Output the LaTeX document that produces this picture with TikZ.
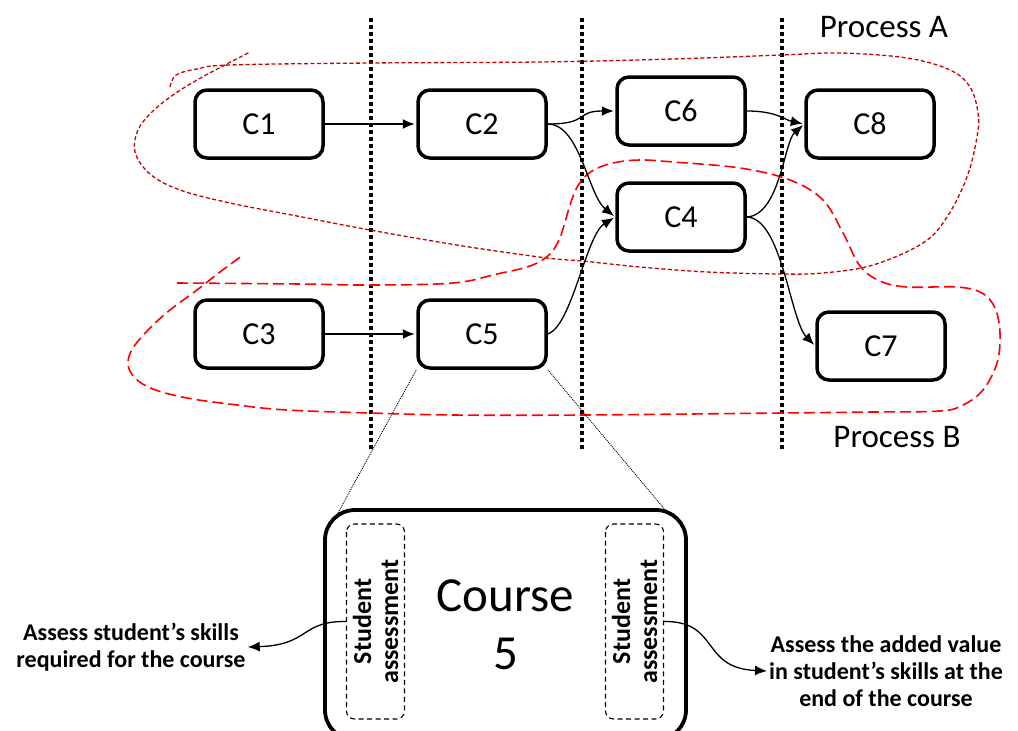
\documentclass[tikz,border=0pt]{standalone}
\usepackage{fontspec}
\setmainfont{Carlito}
\usetikzlibrary{arrows.meta}
\definecolor{redA}{RGB}{200,0,0}
\definecolor{redB}{RGB}{255,0,0}
\begin{document}
\begin{tikzpicture}[x=1pt,y=-1pt,
  cbox/.style={draw, line width=3.5pt, rounded corners=12pt, minimum width=128pt, minimum height=68pt, inner sep=0pt, font=\fontsize{32}{38}\selectfont},
  conn/.style={line width=1.3pt, -{Latex[length=12pt,width=10pt]}, shorten >=1.5pt},
  vdot/.style={line width=4pt, dash pattern=on 3.5pt off 3.5pt},
  zoomline/.style={line width=0.9pt, dash pattern=on 1pt off 1pt},
  bigbox/.style={draw, line width=3.8pt, rounded corners=30pt, minimum width=361pt, minimum height=230pt, align=center, font=\fontsize{49}{58}\selectfont},
  sabox/.style={draw, line width=1.1pt, dash pattern=on 5pt off 3.5pt, rounded corners=8pt, rotate=90, minimum width=195pt, minimum height=58pt, inner sep=0pt, align=center, font=\fontsize{26}{27}\selectfont\bfseries},
  lbl/.style={align=center, inner sep=2pt, font=\fontsize{24}{27}\selectfont\bfseries},
  proc/.style={inner sep=0pt, font=\fontsize{33}{38}\selectfont},
  procA/.style={redA, line width=1.3pt, dash pattern=on 4pt off 2.5pt},
  procB/.style={redB, line width=1.6pt, dash pattern=on 11pt off 5pt},
  note/.style={line width=1.3pt, -{Latex[length=12pt,width=10pt]}}
]
\useasboundingbox (0,0) rectangle (1018,731);

% column separators
\draw[vdot] (371,18) -- (371,452);
\draw[vdot] (582,18) -- (582,452);
\draw[vdot] (782,18) -- (782,452);

% process A lasso
\draw[procA] plot[smooth, tension=0.6] coordinates {
 (170,87) (176,75) (197,69) (230,65) (370,63) (540,62) (673,59) (782,55)
 (840,53) (907,58) (950,70) (970,87) (978,113) (977,137) (967,177) (947,217)
 (923,243) (873,265) (823,273) (780,274) (707,272) (640,267) (582,261)
 (547,258) (463,246) (370,230) (297,216) (230,203) (180,190) (150,174)
 (135,152) (138,130) (152,112) (173,95) (197,80) (223,66) (250,52)};

% process B lasso
\draw[procB] plot[smooth, tension=0.6] coordinates {
 (177,283) (300,284) (371,285) (453,283) (497,274) (530,266) (549,255)
 (559,240) (565,222) (571,202) (579,184) (592,171) (613,163) (640,160)
 (673,162) (740,168) (790,180) (823,200) (843,233) (860,266) (880,281)
 (907,287) (957,287) (982,293) (995,308) (1000,333) (997,363) (983,390)
 (963,405) (940,411) (873,412) (782,413) (582,415) (453,415) (371,413)
 (287,410) (237,405) (187,398) (153,389) (135,378) (128,364) (133,348)
 (150,328) (170,310) (197,290) (220,272) (243,255)};

% course boxes
\node[cbox] (c1) at (259,124) {C1};
\node[cbox] (c2) at (482,124) {C2};
\node[cbox] (c6) at (681,111) {C6};
\node[cbox] (c8) at (870,124) {C8};
\node[cbox] (c4) at (681,217) {C4};
\node[cbox] (c3) at (259,334) {C3};
\node[cbox] (c5) at (482,334) {C5};
\node[cbox] (c7) at (881,346) {C7};

% connectors
\draw[conn] (c1) -- (c2);
\draw[conn] (c3) -- (c5);
\draw[conn] (c2.east) .. controls (590,124) and (575,111) .. (c6.west);
\draw[conn] (c2.east) .. controls (580,124) and (588,195) .. (c4.west);
\draw[conn] (c5.east) .. controls (572,326) and (586,235) .. (c4.west);
\draw[conn] (c6.east) .. controls (777,111) and (785,120) .. (c8.west);
\draw[conn] (c4.east) .. controls (780,215) and (784,142) .. (c8.west);
\draw[conn] (c4.east) .. controls (782,218) and (790,320) .. (c7.west);

% process labels
\node[proc] (pa) at (884,27) {Process A};
\node[proc] (pb) at (897,437) {Process B};

% zoom-in of course 5
\node[bigbox] (course) at (505.5,625) {Course\\5};
\coordinate (cnw) at (338,513);
\coordinate (cne) at (666,511);
\draw[zoomline] (c5.south west) -- (cnw);
\draw[zoomline] (c5.south east) -- (cne);

\node[sabox] (sa1) at (375.5,621.5) {Student\\assessment};
\node[sabox] (sa2) at (634.5,621.5) {Student\\assessment};

\node[lbl] (la) at (131,647) {Assess student’s skills\\required for the course};
\node[lbl] (lb) at (886,671) {Assess the added value\\in student’s skills at the\\end of the course};

\draw[note] (sa1.north) .. controls (300,621) and (310,645) .. (la.east);
\draw[note] (sa2.south) .. controls (720,621) and (700,668) .. (lb.west);
\end{tikzpicture}
\end{document}
